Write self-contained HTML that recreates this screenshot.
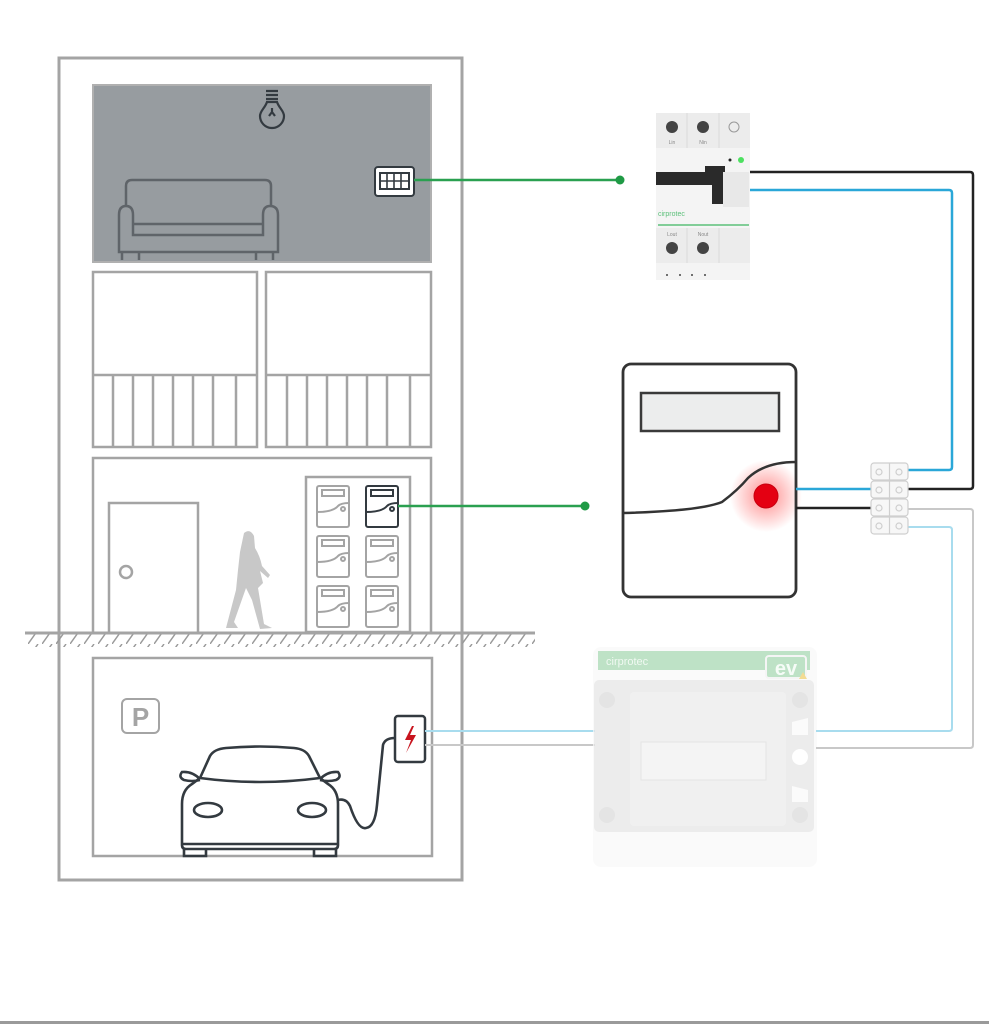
<!DOCTYPE html>
<html><head><meta charset="utf-8"><style>
html,body{margin:0;padding:0;background:#fff;}
svg{display:block;}
text{font-family:"Liberation Sans",sans-serif;}
</style></head><body>
<svg width="989" height="1024" viewBox="0 0 989 1024" xmlns="http://www.w3.org/2000/svg">
<defs>
<radialGradient id="glow" cx="0.5" cy="0.5" r="0.5">
<stop offset="0" stop-color="#ff3030" stop-opacity="0.55"/>
<stop offset="1" stop-color="#ff3030" stop-opacity="0"/>
</radialGradient>
<pattern id="hatch" width="14" height="14" patternUnits="userSpaceOnUse">
<line x1="0" y1="14" x2="10" y2="0" stroke="#9a9a9a" stroke-width="1.5"/>
</pattern>
</defs>
<rect width="989" height="1024" fill="#fff"/>
<rect x="0" y="1021" width="989" height="3" fill="#9a9a9a"/>

<rect x="59" y="58" width="403" height="822" fill="none" stroke="#a4a4a4" stroke-width="3"/>
<rect x="93" y="85" width="338" height="177" fill="#979ca0" stroke="#b0b0b0" stroke-width="2"/>
<g stroke="#333a40" stroke-width="2.2" fill="none">
<path d="M266 91 h12 M266 95 h12 M266 99 h12"/>
<path d="M267 102 C265 108 260 111 260 116 A12 12 0 0 0 284 116 C284 111 279 108 277 102 Z"/>
<path d="M272 108 v4 M272 112 l-3 4 M272 112 l3 4"/>
</g>
<g stroke="#5f6469" stroke-width="2.5" fill="none">
<path d="M126 207 V186 Q126 180 132 180 H265 Q271 180 271 186 V207"/>
<path d="M119 252 V215 Q119 206 126 206 Q133 206 133 215 V235 H263 V215 Q263 206 270 206 Q278 206 278 215 V252 Z"/>
<path d="M133 224 H263"/>
<path d="M122 252 V260 M139 252 V260 M256 252 V260 M273 252 V260"/>
</g>
<rect x="375" y="167" width="39" height="29" rx="3" fill="#fff" stroke="#333a40" stroke-width="2"/>
<rect x="380" y="173" width="29" height="16" fill="none" stroke="#333a40" stroke-width="2"/>
<path d="M387 173 v16 M394 173 v16 M401 173 v16 M380 181 h29" stroke="#333a40" stroke-width="1.6"/>
<line x1="414" y1="180" x2="620" y2="180" stroke="#2aa050" stroke-width="2.5"/>
<circle cx="620" cy="180" r="4.5" fill="#1f9a45"/>

<g stroke="#a4a4a4" stroke-width="2.5" fill="none">
<rect x="93" y="272" width="164" height="175"/>
<rect x="266" y="272" width="165" height="175"/>
<line x1="93" y1="375" x2="257" y2="375"/>
<line x1="266" y1="375" x2="431" y2="375"/>
<path d="M113 375V447 M133 375V447 M153 375V447 M173 375V447 M193 375V447 M213 375V447 M236 375V447"/>
<path d="M287 375V447 M307 375V447 M327 375V447 M347 375V447 M367 375V447 M387 375V447 M410 375V447"/>
</g>

<g stroke="#a4a4a4" stroke-width="2.5" fill="none">
<path d="M93 632 V458 H431 V632"/>
<rect x="109" y="503" width="89" height="130"/>
<circle cx="126" cy="572" r="6"/>
<rect x="306" y="477" width="104" height="155"/>
</g>
<path d="M244 533 Q250 528 254 536 L255 548 Q260 556 262 566 L270 575 L268 578 L260 571 L263 583 L258 588 L264 624 L272 628 L260 629 L252 600 L246 588 L234 622 L238 628 L226 628 L236 590 L238 570 L240 552 Z" fill="#c8c8c8"/>
<g fill="none" stroke-width="2">
<g stroke="#a4a4a4">
<rect x="317" y="486" width="32" height="41" rx="2"/><rect x="322" y="490" width="22" height="6"/><path d="M317 512 Q333 512 338 506 Q341 503 349 503"/><circle cx="343" cy="509" r="2"/>
<rect x="317" y="536" width="32" height="41" rx="2"/><rect x="322" y="540" width="22" height="6"/><path d="M317 562 Q333 562 338 556 Q341 553 349 553"/><circle cx="343" cy="559" r="2"/>
<rect x="366" y="536" width="32" height="41" rx="2"/><rect x="371" y="540" width="22" height="6"/><path d="M366 562 Q382 562 387 556 Q390 553 398 553"/><circle cx="392" cy="559" r="2"/>
<rect x="317" y="586" width="32" height="41" rx="2"/><rect x="322" y="590" width="22" height="6"/><path d="M317 612 Q333 612 338 606 Q341 603 349 603"/><circle cx="343" cy="609" r="2"/>
<rect x="366" y="586" width="32" height="41" rx="2"/><rect x="371" y="590" width="22" height="6"/><path d="M366 612 Q382 612 387 606 Q390 603 398 603"/><circle cx="392" cy="609" r="2"/>
</g>
<g stroke="#333a40">
<rect x="366" y="486" width="32" height="41" rx="2"/><rect x="371" y="490" width="22" height="6"/><path d="M366 512 Q382 512 387 506 Q390 503 398 503"/><circle cx="392" cy="509" r="2"/>
</g>
</g>
<line x1="398" y1="506" x2="585" y2="506" stroke="#2aa050" stroke-width="2.5"/>
<circle cx="585" cy="506" r="4.5" fill="#1f9a45"/>

<rect x="25" y="633" width="510" height="14" fill="url(#hatch)"/>
<line x1="25" y1="633" x2="535" y2="633" stroke="#a4a4a4" stroke-width="3"/>

<rect x="93" y="658" width="339" height="198" fill="none" stroke="#a4a4a4" stroke-width="2.5"/>
<rect x="122" y="699" width="37" height="34" rx="5" fill="none" stroke="#a4a4a4" stroke-width="2"/>
<text x="140.5" y="726" font-size="26" font-weight="bold" fill="#a4a4a4" text-anchor="middle">P</text>
<g stroke="#333a40" stroke-width="2.6" fill="none">
<path d="M200 778 L210 756 Q214 749 226 748 Q260 745 294 748 Q305 749 309 756 L320 778"/>
<path d="M182 804 Q182 790 192 784 L200 778 Q260 786 320 778 L328 784 Q338 790 338 804 V845 Q338 849 334 849 H186 Q182 849 182 845 Z"/>
<path d="M200 779 Q192 771 182 772 Q178 777 184 780 Q192 782 200 780"/>
<path d="M320 779 Q328 771 338 772 Q342 777 336 780 Q328 782 320 780"/>
<ellipse cx="208" cy="810" rx="14" ry="7"/><ellipse cx="312" cy="810" rx="14" ry="7"/>
<path d="M183 844 H337"/>
<path d="M184 849 V856 H206 V849 M314 849 V856 H336 V849"/>
<path d="M338 800 Q346 798 350 806 Q358 830 366 828 Q375 827 377 805 L383 745 Q385 738 395 738"/>
</g>
<rect x="395" y="716" width="30" height="46" rx="3" fill="#fff" stroke="#333a40" stroke-width="2.5"/>
<path d="M412 726 L405 740 L411 740 L406 753 L416 735 L410 735 L414 726 Z" fill="#c8141e"/>

<line x1="425" y1="731" x2="595" y2="731" stroke="#a8dcee" stroke-width="2"/>
<line x1="425" y1="745" x2="595" y2="745" stroke="#c8c8c8" stroke-width="2"/>

<g opacity="0.75">
<rect x="593" y="647" width="224" height="220" rx="8" fill="#f9f9f9"/>
<rect x="598" y="651" width="212" height="19" fill="#a9d9b3"/>
<text x="606" y="665" font-size="11" fill="#ecf7ee">cirprotec</text>
<rect x="766" y="656" width="40" height="22" rx="3" fill="#a9d9b3" stroke="#f2f2f2" stroke-width="2"/>
<text x="786" y="675" font-size="20" font-weight="bold" fill="#f4fbf5" text-anchor="middle">ev</text>
<path d="M803 672 l4 7 h-8 z" fill="#f0d070"/>
<rect x="594" y="680" width="220" height="152" rx="5" fill="#e6e6e6"/>
<rect x="630" y="692" width="156" height="134" rx="4" fill="#ececec"/>
<rect x="641" y="742" width="125" height="38" fill="#f1f1f1" stroke="#dcdcdc"/>
<circle cx="800" cy="757" r="8" fill="#fff"/>
<path d="M792 722 L808 718 V735 L792 735 Z M792 786 L808 790 V802 L792 802 Z" fill="#fafafa"/>
<circle cx="607" cy="700" r="8" fill="#dcdcdc"/><circle cx="607" cy="815" r="8" fill="#dcdcdc"/>
<circle cx="800" cy="700" r="8" fill="#dcdcdc"/><circle cx="800" cy="815" r="8" fill="#dcdcdc"/>
</g>

<path d="M816 748 H970 Q973 748 973 745 V512 Q973 509 970 509 H908" fill="none" stroke="#c8c8c8" stroke-width="2"/>
<path d="M816 731 H949 Q952 731 952 728 V530 Q952 527 949 527 H908" fill="none" stroke="#a8dcee" stroke-width="2"/>

<rect x="656" y="113" width="94" height="167" fill="#f4f4f4"/>
<rect x="656" y="113" width="94" height="35" fill="#ececec"/>
<rect x="656" y="228" width="94" height="35" fill="#ececec"/>
<path d="M687 113 V148 M719 113 V148 M687 228 V263 M719 228 V263" stroke="#dadada"/>
<circle cx="672" cy="127" r="6" fill="#444"/><circle cx="703" cy="127" r="6" fill="#444"/>
<circle cx="734" cy="127" r="5" fill="none" stroke="#999"/>
<text x="672" y="144" font-size="5" fill="#888" text-anchor="middle">Lin</text>
<text x="703" y="144" font-size="5" fill="#888" text-anchor="middle">Nin</text>
<text x="672" y="236" font-size="5" fill="#888" text-anchor="middle">Lout</text>
<text x="703" y="236" font-size="5" fill="#888" text-anchor="middle">Nout</text>
<circle cx="672" cy="248" r="6" fill="#444"/><circle cx="703" cy="248" r="6" fill="#444"/>
<circle cx="667" cy="275" r="1" fill="#444"/><circle cx="680" cy="275" r="1" fill="#444"/><circle cx="692" cy="275" r="1" fill="#444"/><circle cx="705" cy="275" r="1" fill="#444"/>
<rect x="656" y="172" width="60" height="13" fill="#2a2a2a"/>
<rect x="712" y="166" width="12" height="38" fill="#2a2a2a"/>
<rect x="705" y="166" width="20" height="8" fill="#2a2a2a"/>
<rect x="723" y="172" width="26" height="35" fill="#e8e8e8"/>
<circle cx="741" cy="160" r="3" fill="#4de060"/>
<circle cx="730" cy="160" r="1.5" fill="#222"/>
<text x="658" y="216" font-size="7" fill="#5cc07a">cirprotec</text>
<line x1="658" y1="225" x2="749" y2="225" stroke="#5cc07a" stroke-width="1.5"/>

<path d="M750 172 H970 Q973 172 973 175 V486 Q973 489 970 489 H908" fill="none" stroke="#222" stroke-width="2.5"/>
<path d="M750 190 H949 Q952 190 952 193 V467 Q952 470 949 470 H908" fill="none" stroke="#2aa7d8" stroke-width="2.5"/>

<circle cx="766" cy="496" r="36" fill="url(#glow)"/>
<rect x="623" y="364" width="173" height="233" rx="8" fill="none" stroke="#333" stroke-width="2.8"/>
<rect x="641" y="393" width="138" height="38" fill="#eceded" stroke="#3a3a3a" stroke-width="2.5"/>
<path d="M623 513 Q700 511 722 502 Q738 490 748 478 Q765 462 796 462" fill="none" stroke="#333" stroke-width="2.5"/>
<circle cx="766" cy="496" r="12" fill="#e40012" stroke="#c8000f"/>
<line x1="796" y1="489" x2="872" y2="489" stroke="#2aa7d8" stroke-width="2.5"/>
<line x1="796" y1="508" x2="872" y2="508" stroke="#222" stroke-width="2.5"/>

<g fill="#f7f7f7" stroke="#cfcfcf" stroke-width="1.2">
<rect x="871" y="463" width="37" height="17" rx="3"/>
<rect x="871" y="481" width="37" height="17" rx="3"/>
<rect x="871" y="499" width="37" height="17" rx="3"/>
<rect x="871" y="517" width="37" height="17" rx="3"/>
<line x1="889.5" y1="463" x2="889.5" y2="534"/>
<circle cx="879" cy="472" r="3"/><circle cx="899" cy="472" r="3"/>
<circle cx="879" cy="490" r="3"/><circle cx="899" cy="490" r="3"/>
<circle cx="879" cy="508" r="3"/><circle cx="899" cy="508" r="3"/>
<circle cx="879" cy="526" r="3"/><circle cx="899" cy="526" r="3"/>
</g>
</svg>
</body></html>
